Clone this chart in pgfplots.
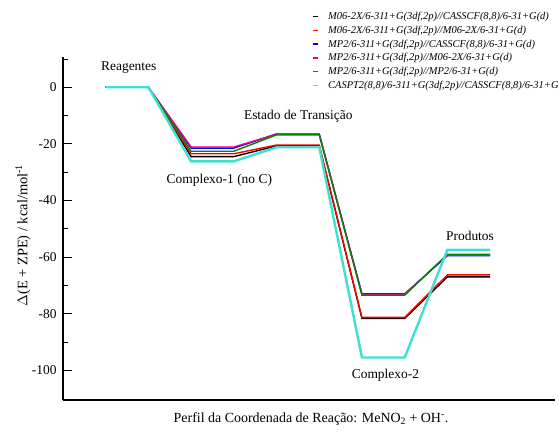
\documentclass[border=0pt]{standalone}
\usepackage{pgfplots}
\pgfplotsset{compat=1.18}
\usepackage{fontspec}
\setmainfont{Liberation Serif}
\definecolor{turq}{RGB}{64,224,208}
\definecolor{dgreen}{RGB}{0,135,0}
\begin{document}
\begin{tikzpicture}
\begin{axis}[
  name=ax,
  at={(0,0)}, anchor=south west,
  scale only axis,
  width=492bp, height=343bp,
  xmin=0, xmax=11.52,
  ymin=-110.5, ymax=10.7,
  axis x line=bottom, axis y line=left,
  axis line style={-, line width=1.6bp},
  xtick=\empty,
  ytick={-100,-80,-60,-40,-20,0},
  minor ytick={-90,-70,-50,-30,-10,10},
  tick align=inside,
  major tick length=9bp, minor tick length=5bp,
  tick style={line width=0.8bp, black},
  yticklabel style={font=\fontsize{13.5}{15}\selectfont, xshift=-3bp},
  /pgf/number format/assume math mode=true,
  clip=false,
  legend style={at={(rel axis cs:0.505,1.14)}, anchor=north west, draw=none, fill=none,
    font=\fontsize{10.5}{13.3}\selectfont\itshape, row sep=0.9bp, column sep=7bp, inner sep=1bp},
  legend cell align=left,
  legend image code/.code={\draw[#1, line width=1.5bp] (0bp,0bp) -- (5bp,0bp);},
]
\addplot[black, line width=1.4bp] coordinates {(1,0)(2,0)(3,-24.5)(4,-24.5)(5,-20.7)(6,-20.7)(7,-81.7)(8,-81.7)(9,-67.0)(10,-67.0)};
\addlegendentry{M06-2X/6-311+G(3df,2p)//CASSCF(8,8)/6-31+G(d)}
\addplot[red, line width=1.4bp] coordinates {(1,0)(2,0)(3,-23.5)(4,-23.5)(5,-20.4)(6,-20.4)(7,-81.3)(8,-81.3)(9,-66.3)(10,-66.3)};
\addlegendentry{M06-2X/6-311+G(3df,2p)//M06-2X/6-31+G(d)}
\addplot[blue, line width=1.4bp] coordinates {(1,0)(2,0)(3,-21.5)(4,-21.5)(5,-16.5)(6,-16.5)(7,-73.0)(8,-73.0)(9,-59.5)(10,-59.5)};
\addlegendentry{MP2/6-311+G(3df,2p)//CASSCF(8,8)/6-31+G(d)}
\addplot[magenta, line width=1.4bp] coordinates {(1,0)(2,0)(3,-21.1)(4,-21.1)(5,-16.6)(6,-16.6)(7,-73.2)(8,-73.2)(9,-59.3)(10,-59.3)};
\addlegendentry{MP2/6-311+G(3df,2p)//M06-2X/6-31+G(d)}
\addplot[dgreen, line width=1.4bp] coordinates {(1,0)(2,0)(3,-22.6)(4,-22.6)(5,-16.8)(6,-16.8)(7,-73.5)(8,-73.5)(9,-59.0)(10,-59.0)};
\addlegendentry{MP2/6-311+G(3df,2p)//MP2/6-31+G(d)}
\addplot[turq, line width=2.4bp] coordinates {(1,0)(2,0)(3,-26.2)(4,-26.2)(5,-21.2)(6,-21.2)(7,-95.5)(8,-95.5)(9,-57.4)(10,-57.4)};
\addlegendentry{CASPT2(8,8)/6-311+G(3df,2p)//CASSCF(8,8)/6-31+G(d)}
\node[font=\fontsize{13.5}{15}\selectfont] at (axis cs:1.54,6.8) {Reagentes};
\node[font=\fontsize{13.5}{15}\selectfont] at (axis cs:3.66,-32.7) {Complexo-1 (no C)};
\node[font=\fontsize{13.5}{15}\selectfont] at (axis cs:5.51,-10.1) {Estado de Transição};
\node[font=\fontsize{13.5}{15}\selectfont] at (axis cs:7.55,-101.8) {Complexo-2};
\node[font=\fontsize{13.5}{15}\selectfont] at (axis cs:9.53,-52.4) {Produtos};
\end{axis}
\node[rotate=90, font=\fontsize{14.5}{16}\selectfont] at ([shift={(-40bp,-7bp)}]ax.west) {$\Delta$(E + ZPE) / kcal/mol\textsuperscript{-1}};
\node[font=\fontsize{14}{16}\selectfont] at ([shift={(2bp,-19bp)}]ax.south) {Perfil da Coordenada de Reação: MeNO\textsubscript{2} + OH\textsuperscript{-}.};
\pgfresetboundingbox
\path[use as bounding box] ([shift={(-63bp,-34bp)}]ax.south west) rectangle ([shift={(3bp,57bp)}]ax.north east);
\end{tikzpicture}
\end{document}
